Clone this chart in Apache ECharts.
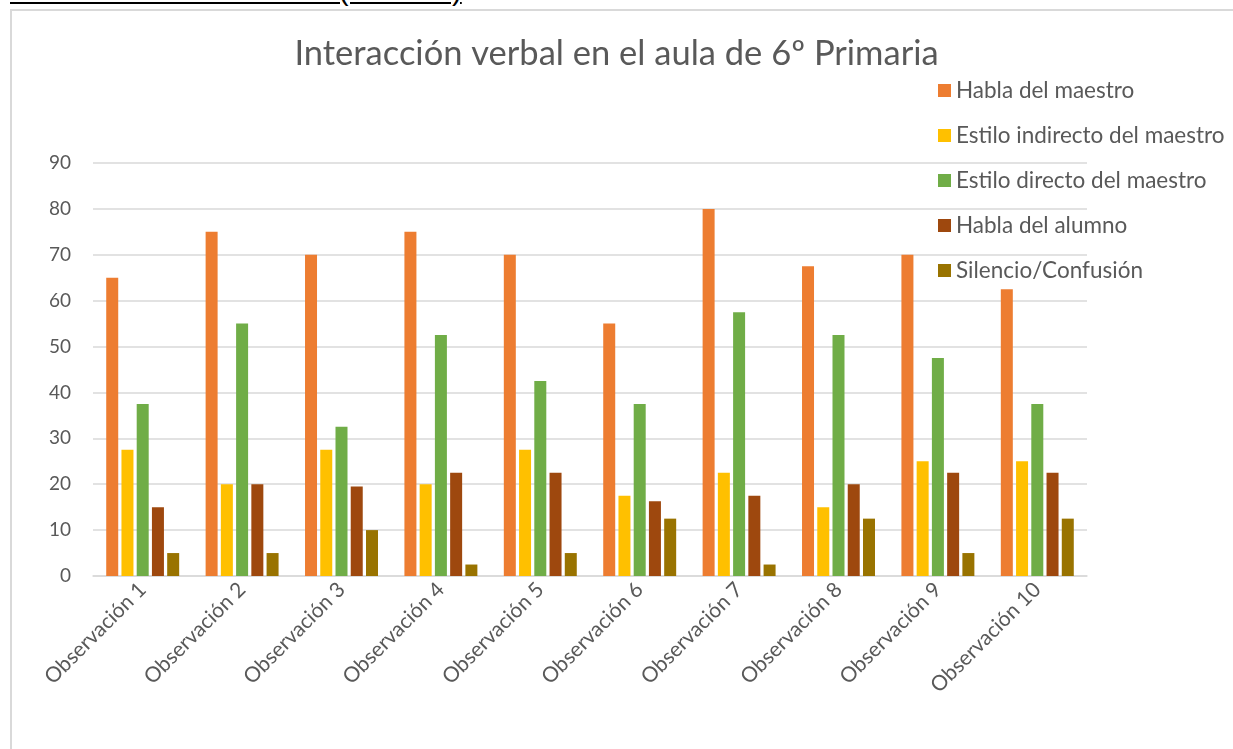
<!DOCTYPE html>
<html>
<head>
<meta charset="utf-8">
<script src="https://cdn.jsdelivr.net/npm/echarts@6/dist/echarts.min.js"></script>
<style>
  html, body { margin: 0; padding: 0; background: #fff; overflow: hidden; }
  #chart { position: absolute; left: 0; top: 0; width: 1233px; height: 749px; }
  #frame { position: absolute; left: 10px; top: 9px; width: 1240px; height: 760px;
           border-left: 2px solid #d9d9d9; border-top: 2px solid #d9d9d9; pointer-events: none; }
  #heading { position: absolute; left: 10px; top: -25px; font-family: "Liberation Sans", Arial, sans-serif;
             font-size: 29.5px; line-height: 29px; color: #000; text-decoration: underline; white-space: nowrap; }
</style>
</head>
<body>
<div id="heading">INTERACCIÓN AULA 6º (AULA B)</div>
<div id="chart"></div>
<div id="frame"></div>
<script>
const categories = ["Observación 1","Observación 2","Observación 3","Observación 4","Observación 5",
                    "Observación 6","Observación 7","Observación 8","Observación 9","Observación 10"];
const seriesNames = ["Habla del maestro","Estilo indirecto del maestro","Estilo directo del maestro",
                     "Habla del alumno","Silencio/Confusión"];
const hablaMaestro     = [65, 75, 70, 75, 70, 55, 80, 67.5, 70, 62.5];
const estiloIndirecto  = [27.5, 20, 27.5, 20, 27.5, 17.5, 22.5, 15, 25, 25];
const estiloDirecto    = [37.5, 55, 32.5, 52.5, 42.5, 37.5, 57.5, 52.5, 47.5, 37.5];
const hablaAlumno      = [15, 20, 19.5, 22.5, 22.5, 16.3, 17.5, 20, 22.5, 22.5];
const silencio         = [5, 5, 10, 2.5, 5, 12.5, 2.5, 12.5, 5, 12.5];
const colors = ["#ED7D31", "#FFC000", "#70AD47", "#9E480E", "#997300"];
const seriesData = [hablaMaestro, estiloIndirecto, estiloDirecto, hablaAlumno, silencio];

const FONT = "Lato, 'Open Sans', sans-serif";
const chart = echarts.init(document.getElementById('chart'));
chart.setOption({
  animation: false,
  color: colors,
  title: {
    text: "Interacción verbal en el aula de 6º Primaria",
    left: 'center', top: 31,
    textStyle: { fontFamily: FONT, fontSize: 34.5, fontWeight: 'normal', color: '#595959' }
  },
  legend: {
    orient: 'vertical', left: 933, top: 74,
    itemWidth: 13, itemHeight: 13, itemGap: 22, icon: 'rect',
    textStyle: { fontFamily: FONT, fontSize: 22.5, color: '#595959' },
    data: seriesNames
  },
  grid: { left: 93, right: 146, top: 163, bottom: 173, containLabel: false },
  xAxis: {
    type: 'category', data: categories,
    axisLine: { show: true, lineStyle: { color: '#d9d9d9', width: 1.5 } },
    axisTick: { show: false },
    axisLabel: { rotate: 45, interval: 0, margin: 10, fontFamily: FONT, fontSize: 21, color: '#595959' }
  },
  yAxis: {
    type: 'value', min: 0, max: 90, interval: 10,
    axisLine: { show: false }, axisTick: { show: false },
    splitLine: { lineStyle: { color: '#d9d9d9', width: 1.5 } },
    axisLabel: { margin: 22, fontFamily: FONT, fontSize: 19, color: '#595959' }
  },
  series: seriesNames.map((n, i) => ({
    name: n, type: 'bar', data: seriesData[i],
    barWidth: 12, barGap: '27%', barCategoryGap: '26%'
  }))
});
</script>
</body>
</html>
